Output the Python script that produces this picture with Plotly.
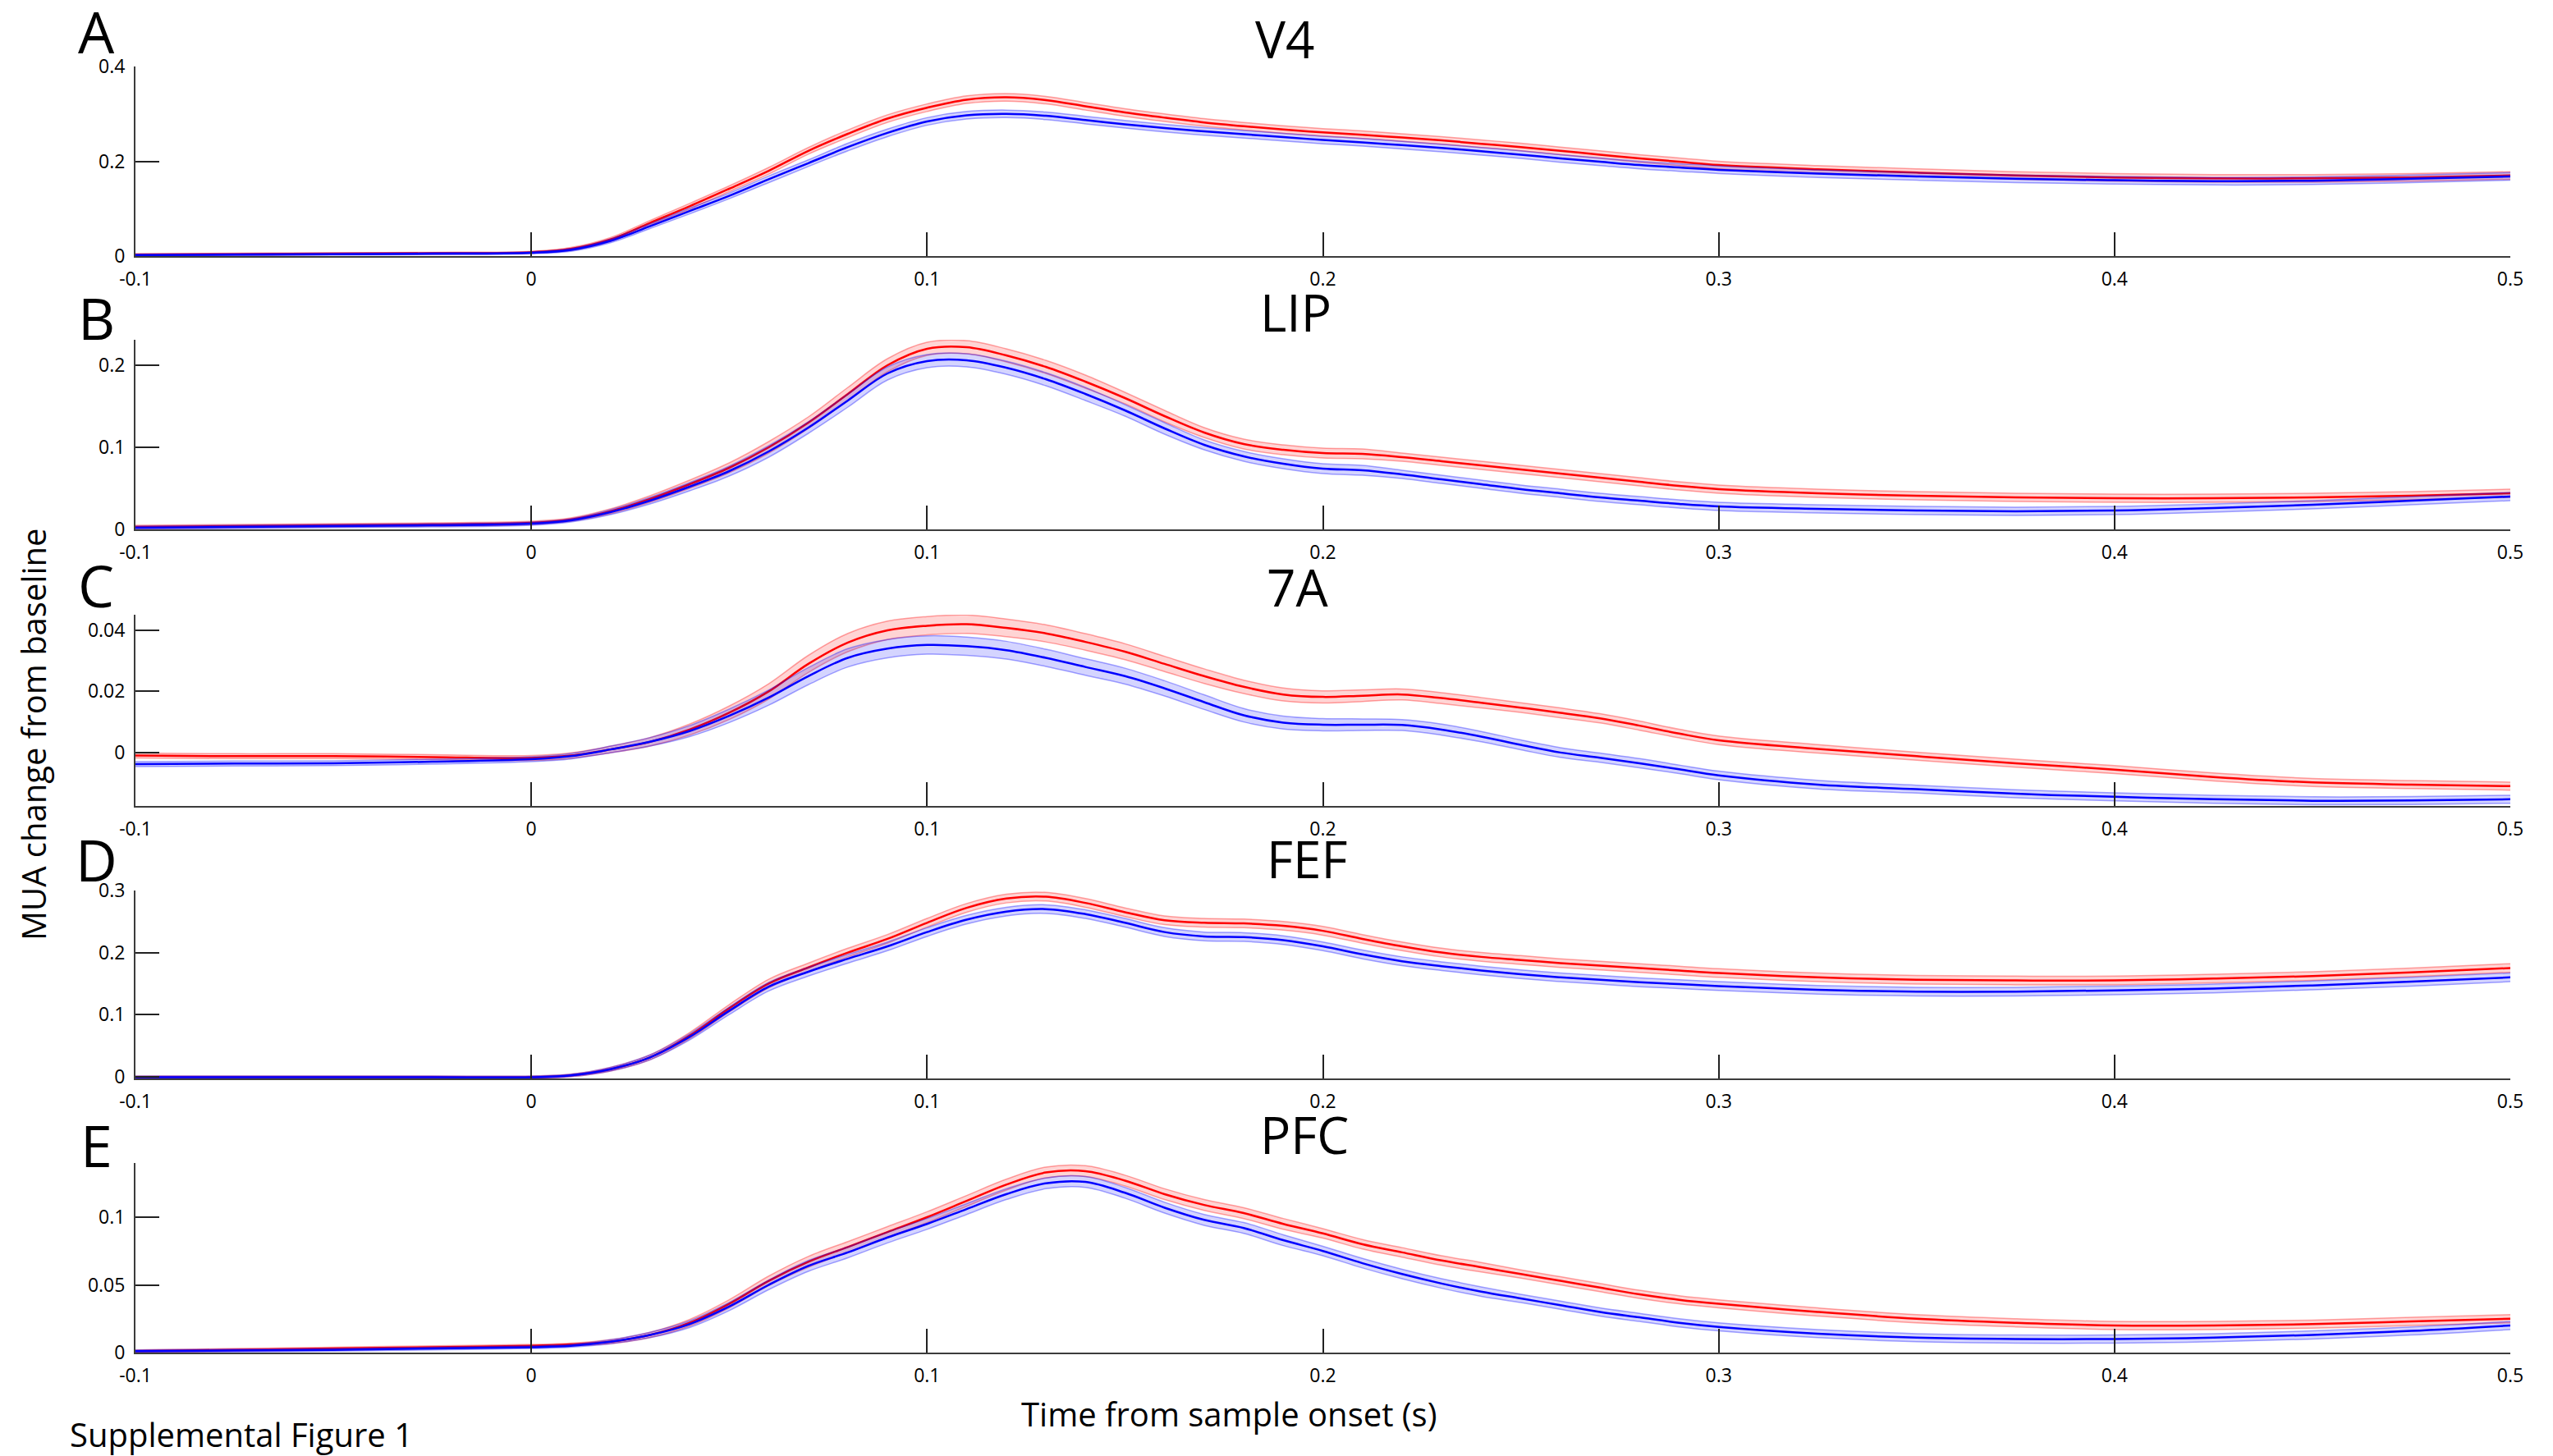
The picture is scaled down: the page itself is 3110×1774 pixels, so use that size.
import plotly.graph_objects as go

# ---------------- data ----------------
T = [-0.1, -0.075, -0.05, -0.025, 0.0,
     0.01, 0.02, 0.03, 0.04, 0.05, 0.06, 0.07, 0.08, 0.09, 0.10,
     0.11, 0.12, 0.13, 0.14, 0.15, 0.16, 0.17, 0.18, 0.19, 0.20,
     0.21, 0.22, 0.23, 0.24, 0.25, 0.26, 0.27, 0.28, 0.29, 0.30,
     0.325, 0.35, 0.375, 0.40, 0.425, 0.45, 0.475, 0.50]

REGIONS = ["V4", "LIP", "7A", "FEF", "PFC"]
LETTERS = ["A", "B", "C", "D", "E"]
X_TICKS = [-0.1, 0, 0.1, 0.2, 0.3, 0.4, 0.5]
X_TICK_TEXT = ["-0.1", "0", "0.1", "0.2", "0.3", "0.4", "0.5"]

V4_RED = [0.003, 0.004, 0.005, 0.006, 0.008,
          0.015, 0.035, 0.070, 0.105, 0.142, 0.180, 0.222, 0.258, 0.290, 0.313,
          0.330, 0.335, 0.329, 0.316, 0.303, 0.292, 0.282, 0.274, 0.267, 0.261,
          0.256, 0.250, 0.244, 0.237, 0.230, 0.222, 0.214, 0.206, 0.199, 0.192,
          0.183, 0.176, 0.170, 0.166, 0.164, 0.164, 0.166, 0.170]
V4_BLUE = [0.002, 0.003, 0.004, 0.005, 0.007,
           0.013, 0.032, 0.063, 0.095, 0.127, 0.162, 0.196, 0.230, 0.260, 0.284,
           0.297, 0.300, 0.296, 0.287, 0.278, 0.270, 0.263, 0.257, 0.251, 0.245,
           0.240, 0.234, 0.228, 0.221, 0.214, 0.206, 0.199, 0.192, 0.187, 0.182,
           0.174, 0.168, 0.163, 0.160, 0.158, 0.159, 0.163, 0.168]
V4_SEM = [0.002, 0.002, 0.002, 0.002, 0.002,
          0.003, 0.004, 0.005, 0.006, 0.006, 0.007, 0.007, 0.008, 0.008, 0.008,
          0.008, 0.008, 0.008, 0.008, 0.008, 0.008, 0.008, 0.008, 0.008, 0.008,
          0.008, 0.008, 0.008, 0.008, 0.008, 0.008, 0.008, 0.008, 0.008, 0.008,
          0.008, 0.008, 0.008, 0.008, 0.008, 0.008, 0.008, 0.008]

LIP_RED = [0.003, 0.004, 0.005, 0.006, 0.008,
           0.012, 0.022, 0.037, 0.055, 0.075, 0.100, 0.130, 0.165, 0.200, 0.220,
           0.222, 0.212, 0.198, 0.180, 0.160, 0.138, 0.118, 0.104, 0.097, 0.093,
           0.092, 0.088, 0.083, 0.078, 0.073, 0.068, 0.063, 0.058, 0.053, 0.049,
           0.044, 0.041, 0.039, 0.038, 0.038, 0.039, 0.041, 0.044]
LIP_BLUE = [0.002, 0.003, 0.004, 0.005, 0.007,
            0.011, 0.021, 0.035, 0.052, 0.071, 0.095, 0.124, 0.157, 0.190, 0.205,
            0.206, 0.197, 0.183, 0.165, 0.145, 0.123, 0.103, 0.089, 0.080, 0.074,
            0.072, 0.067, 0.061, 0.055, 0.049, 0.044, 0.039, 0.035, 0.031, 0.028,
            0.025, 0.023, 0.022, 0.023, 0.026, 0.030, 0.035, 0.040]
LIP_SEM = [0.002, 0.002, 0.002, 0.002, 0.002,
           0.002, 0.003, 0.004, 0.005, 0.006, 0.007, 0.007, 0.008, 0.008, 0.008,
           0.008, 0.008, 0.008, 0.008, 0.007, 0.007, 0.006, 0.006, 0.006, 0.006,
           0.006, 0.005, 0.005, 0.005, 0.005, 0.005, 0.005, 0.005, 0.005, 0.005,
           0.005, 0.005, 0.005, 0.005, 0.005, 0.005, 0.005, 0.005]

A7_RED = [-0.0010, -0.0012, -0.0012, -0.0015, -0.0018,
          -0.0010, 0.0010, 0.0035, 0.0075, 0.0130, 0.0200, 0.0290, 0.0360, 0.0400, 0.0415,
          0.0420, 0.0408, 0.0390, 0.0362, 0.0330, 0.0290, 0.0250, 0.0215, 0.0190, 0.0182,
          0.0186, 0.0190, 0.0178, 0.0163, 0.0147, 0.0130, 0.0112, 0.0088, 0.0062, 0.0040,
          0.0012, -0.0012, -0.0035, -0.0056, -0.0080, -0.0098, -0.0105, -0.0110]
A7_BLUE = [-0.0038, -0.0036, -0.0035, -0.0030, -0.0022,
           -0.0012, 0.0010, 0.0035, 0.0070, 0.0120, 0.0180, 0.0250, 0.0310, 0.0340, 0.0352,
           0.0348, 0.0335, 0.0310, 0.0280, 0.0250, 0.0210, 0.0165, 0.0122, 0.0098, 0.0091,
           0.0091, 0.0090, 0.0075, 0.0052, 0.0025, 0.0000, -0.0017, -0.0035, -0.0055, -0.0075,
           -0.0105, -0.0120, -0.0135, -0.0145, -0.0153, -0.0158, -0.0157, -0.0153]
A7_SEM = [0.0008, 0.0008, 0.0008, 0.0008, 0.0008,
          0.0009, 0.0011, 0.0014, 0.0018, 0.0022, 0.0025, 0.0028, 0.0030, 0.0030, 0.0030,
          0.0030, 0.0029, 0.0028, 0.0027, 0.0026, 0.0025, 0.0024, 0.0022, 0.0021, 0.0020,
          0.0019, 0.0018, 0.0018, 0.0017, 0.0016, 0.0016, 0.0015, 0.0015, 0.0014, 0.0014,
          0.0014, 0.0013, 0.0013, 0.0013, 0.0013, 0.0013, 0.0013, 0.0013]

FEF_RED = [-0.001, -0.001, -0.001, -0.001, -0.001,
           0.002, 0.012, 0.031, 0.066, 0.110, 0.150, 0.176, 0.200, 0.222, 0.248,
           0.272, 0.287, 0.290, 0.280, 0.265, 0.252, 0.248, 0.247, 0.243, 0.235,
           0.222, 0.210, 0.200, 0.193, 0.188, 0.183, 0.179, 0.175, 0.171, 0.167,
           0.160, 0.156, 0.155, 0.155, 0.158, 0.162, 0.168, 0.175]
FEF_BLUE = [-0.001, -0.001, -0.001, -0.001, -0.001,
            0.002, 0.012, 0.031, 0.064, 0.106, 0.145, 0.169, 0.190, 0.210, 0.233,
            0.253, 0.266, 0.270, 0.262, 0.248, 0.233, 0.226, 0.225, 0.220, 0.210,
            0.197, 0.186, 0.178, 0.171, 0.165, 0.160, 0.156, 0.152, 0.149, 0.146,
            0.140, 0.137, 0.137, 0.139, 0.142, 0.147, 0.153, 0.160]
FEF_SEM = [0.002, 0.002, 0.002, 0.002, 0.002,
           0.002, 0.003, 0.004, 0.005, 0.006, 0.007, 0.007, 0.007, 0.007, 0.007,
           0.007, 0.007, 0.007, 0.007, 0.007, 0.007, 0.007, 0.007, 0.007, 0.007,
           0.007, 0.007, 0.007, 0.007, 0.007, 0.007, 0.007, 0.007, 0.007, 0.007,
           0.007, 0.007, 0.007, 0.007, 0.007, 0.007, 0.007, 0.007]

PFC_RED = [0.001, 0.002, 0.003, 0.004, 0.005,
           0.006, 0.008, 0.013, 0.022, 0.036, 0.053, 0.067, 0.078, 0.089, 0.100,
           0.112, 0.124, 0.133, 0.134, 0.127, 0.117, 0.109, 0.103, 0.095, 0.088,
           0.080, 0.074, 0.068, 0.063, 0.058, 0.053, 0.048, 0.043, 0.039, 0.036,
           0.030, 0.025, 0.022, 0.020, 0.020, 0.021, 0.023, 0.025]
PFC_BLUE = [0.001, 0.0015, 0.002, 0.003, 0.004,
            0.005, 0.008, 0.013, 0.021, 0.034, 0.050, 0.064, 0.074, 0.085, 0.095,
            0.106, 0.117, 0.125, 0.126, 0.118, 0.107, 0.098, 0.092, 0.083, 0.075,
            0.066, 0.058, 0.051, 0.045, 0.040, 0.035, 0.030, 0.026, 0.022, 0.019,
            0.014, 0.011, 0.010, 0.010, 0.011, 0.013, 0.016, 0.020]
PFC_SEM = [0.001, 0.001, 0.001, 0.001, 0.001,
           0.001, 0.0015, 0.002, 0.0025, 0.003, 0.0035, 0.004, 0.004, 0.004, 0.004,
           0.004, 0.004, 0.004, 0.004, 0.004, 0.004, 0.004, 0.004, 0.004, 0.0035,
           0.0035, 0.0035, 0.0035, 0.0035, 0.003, 0.003, 0.003, 0.003, 0.003, 0.003,
           0.003, 0.003, 0.003, 0.003, 0.003, 0.003, 0.003, 0.003]

Y_TICKS = [[0, 0.2, 0.4], [0, 0.1, 0.2], [0, 0.02, 0.04], [0, 0.1, 0.2, 0.3], [0, 0.05, 0.1]]
Y_TICK_TEXT = [["0", "0.2", "0.4"], ["0", "0.1", "0.2"], ["0", "0.02", "0.04"],
               ["0", "0.1", "0.2", "0.3"], ["0", "0.05", "0.1"]]

PANELS = [
    (V4_RED, V4_BLUE, V4_SEM),
    (LIP_RED, LIP_BLUE, LIP_SEM),
    (A7_RED, A7_BLUE, A7_SEM),
    (FEF_RED, FEF_BLUE, FEF_SEM),
    (PFC_RED, PFC_BLUE, PFC_SEM),
]

# ---------------- layout geometry ----------------
W, H = 3110, 1774
FONT = "Open Sans, Liberation Sans, DejaVu Sans, sans-serif"
Y_RANGES = [[0, 0.4], [0, 0.231], [-0.0175, 0.0451], [-0.003, 0.3], [0, 0.14]]
# pixel rows (top, bottom) of each panel
ROWS_PX = [(81, 312), (414, 645), (749, 982), (1085, 1314), (1417, 1648)]
X_DOMAIN = [165 / W, 3058 / W]

COLORS = {
    "red": ("#ff0000", "rgba(255,0,0,0.17)", "rgba(255,0,0,0.35)"),
    "blue": ("#0000ff", "rgba(0,0,255,0.17)", "rgba(0,0,255,0.35)"),
}

fig = go.Figure()
layout = dict(
    width=W, height=H, autosize=False,
    margin=dict(l=0, r=0, t=0, b=0, pad=0, autoexpand=False),
    paper_bgcolor="white", plot_bgcolor="white",
    showlegend=False,
    font=dict(family=FONT, color="black"),
    annotations=[],
)

for k, (red, blue, sem) in enumerate(PANELS):
    sfx = "" if k == 0 else str(k + 1)
    xa, ya = "x" + sfx, "y" + sfx
    for name, vals in (("red", red), ("blue", blue)):
        line_c, fill_c, edge_c = COLORS[name]
        lo = [v - s for v, s in zip(vals, sem)]
        hi = [v + s for v, s in zip(vals, sem)]
        fig.add_trace(go.Scatter(x=T, y=lo, xaxis=xa, yaxis=ya, mode="lines",
                                 line=dict(color=edge_c, width=1.5, shape="spline"),
                                 hoverinfo="skip"))
        fig.add_trace(go.Scatter(x=T, y=hi, xaxis=xa, yaxis=ya, mode="lines",
                                 fill="tonexty", fillcolor=fill_c,
                                 line=dict(color=edge_c, width=1.5, shape="spline"),
                                 hoverinfo="skip"))
        fig.add_trace(go.Scatter(x=T, y=vals, xaxis=xa, yaxis=ya, mode="lines",
                                 line=dict(color=line_c, width=2.5, shape="spline"),
                                 name=f"{REGIONS[k]} {name}"))

    top, bot = ROWS_PX[k]
    common = dict(showgrid=False, zeroline=False, showline=True, automargin=False,
                  linecolor="#3c3c3c", linewidth=2,
                  ticks="inside", ticklen=29, tickwidth=1.5, tickcolor="#222",
                  tickfont=dict(family=FONT, size=23, color="black"))
    layout["xaxis" + sfx] = dict(domain=X_DOMAIN, range=[-0.1, 0.5], anchor=ya,
                                 tickvals=X_TICKS, ticktext=X_TICK_TEXT,
                                 ticklabelstandoff=6, **common)
    layout["yaxis" + sfx] = dict(domain=[1 - bot / H, 1 - top / H], range=Y_RANGES[k],
                                 anchor=xa, tickvals=Y_TICKS[k], ticktext=Y_TICK_TEXT[k],
                                 ticklabelstandoff=6, **common)

# panel letters and region titles
LETTER_Y = [38, 387, 713, 1047, 1395]
TITLE_X = [1565, 1578, 1580, 1592, 1589]
TITLE_Y = [47, 380, 715, 1046, 1382]
for k in range(5):
    layout["annotations"].append(dict(
        text=LETTERS[k], x=117 / W, y=1 - LETTER_Y[k] / H, xref="paper", yref="paper",
        xanchor="center", yanchor="middle", showarrow=False,
        font=dict(family=FONT, size=70, color="black")))
    layout["annotations"].append(dict(
        text=REGIONS[k], x=TITLE_X[k] / W, y=1 - TITLE_Y[k] / H, xref="paper", yref="paper",
        xanchor="center", yanchor="middle", showarrow=False,
        font=dict(family=FONT, size=62, color="black")))

layout["annotations"].append(dict(
    text="MUA change from baseline", x=40 / W, y=1 - 895 / H, xref="paper", yref="paper",
    xanchor="center", yanchor="middle", textangle=-90, showarrow=False,
    font=dict(family=FONT, size=40, color="black")))
layout["annotations"].append(dict(
    text="Time from sample onset (s)", x=1497 / W, y=1 - 1722 / H, xref="paper", yref="paper",
    xanchor="center", yanchor="middle", showarrow=False,
    font=dict(family=FONT, size=40, color="black")))
layout["annotations"].append(dict(
    text="Supplemental Figure 1", x=83 / W, y=1 - 1747 / H, xref="paper", yref="paper",
    xanchor="left", yanchor="middle", showarrow=False,
    font=dict(family=FONT, size=40, color="black")))

fig.update_layout(**layout)
fig.write_html("out.html")
